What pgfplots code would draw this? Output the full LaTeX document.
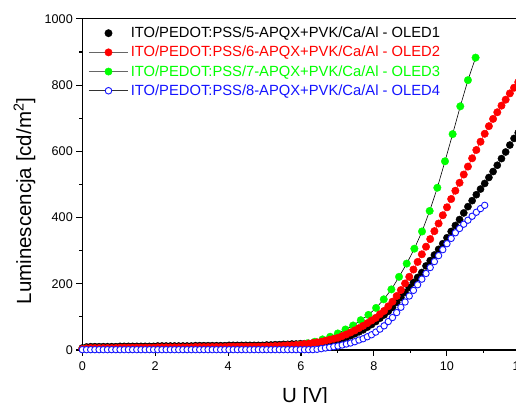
\documentclass[border=0pt]{standalone}
\usepackage{fontspec}
\setmainfont{Liberation Sans}
\usepackage{pgfplots}
\usepackage{pgfplotstable}
\pgfplotsset{compat=1.18}
\usetikzlibrary{calc}
\definecolor{lgreen}{RGB}{0,255,0}
\definecolor{lred}{RGB}{255,0,0}
\definecolor{lblue}{RGB}{20,20,255}

\pgfplotstableread{
x K R B
0 6 3 1
0.115 9 5 1
0.23 10 6 1
0.345 10 6 1
0.46 10 6 1
0.575 10 6 1
0.69 10 6 1
0.805 10 6 1
0.92 10 6 1
1.035 11 7 1
1.15 11 7 1
1.265 11 7 1
1.38 11 7 1
1.495 11 7 1
1.61 11 7 1
1.725 11 7 1
1.84 11 7 1
1.955 11 7 1
2.07 12 8 1
2.185 12 8 1
2.3 12 8 1
2.415 12 8 1
2.53 12 8 1
2.645 12 8 1
2.76 12 8 1
2.875 12 8 1
2.99 12 8 1
3.105 13 9 1
3.22 13 9 1
3.335 13 9 1
3.45 13 9 1
3.565 13 9 1
3.68 13 9 1
3.795 13 9 1
3.91 13 9 1
4.025 14 10 1
4.14 14 10 1
4.255 14 10 1
4.37 14 10 1
4.485 14 10 1
4.6 14 10 1
4.715 14 10 1
4.83 14 10 1
4.945 14 10 1
5.06 15 11 1
5.175 15 11 1
5.29 16 12 1
5.405 16 12 1
5.52 17 13 1
5.635 17 14 1
5.75 18 14 1
5.865 18 15 1
5.98 19 16 1
6.095 19 18 1
6.21 20 19 1
6.325 21 21 1
6.44 22 23 2
6.555 23 25 4
6.67 25 28 6
6.785 27 31 8
6.9 28 34 10
7.015 30 37 12
7.13 34 42 15
7.245 38 47 18
7.36 43 53 21
7.475 49 59 25
7.59 55 66 30
7.705 61 73 34
7.82 69 81 40
7.935 77 89 46
8.05 86 97 54
8.165 96 108 63
8.28 106 118 73
8.395 117 132 86
8.51 129 146 98
8.625 144 163 113
8.74 159 181 129
8.855 174 201 145
8.97 189 221 163
9.085 204 243 180
9.2 219 266 197
9.315 234 289 214
9.43 254 312 231
9.545 270 335 249
9.66 287 359 267
9.775 304 382 285
9.89 321 407 303
10.005 339 431 321
10.12 358 456 337
10.235 376 481 354
10.35 394 505 367
10.465 414 530 380
10.58 433 554 392
10.695 451 579 404
10.81 469 604 416
10.925 486 629 427
11.04 503 653 437
11.155 521 676 nan
11.27 539 698 nan
11.385 558 718 nan
11.5 578 738 nan
11.615 598 756 nan
11.73 619 775 nan
11.845 639 792 nan
11.96 656 809 nan
}\dataA

\pgfplotstableread{
x G
0.08 4
0.29 4
0.50 4
0.71 4
0.92 4
1.13 4
1.34 4
1.55 4
1.76 4
1.97 4
2.18 4
2.39 4
2.60 4
2.81 4
3.02 4
3.23 4
3.44 4
3.65 4
3.86 4
4.07 4
4.28 5
4.49 5
4.70 6
4.91 7
5.12 8
5.33 9
5.54 11
5.75 13
5.96 16
6.17 20
6.38 25
6.59 32
6.80 40
7.01 50
7.22 62
7.43 74
7.64 90
7.85 106
8.06 127
8.27 153
8.48 183
8.69 221
8.90 261
9.11 306
9.32 358
9.53 420
9.74 490
9.95 570
10.16 652
10.37 736
10.58 815
10.79 883
}\dataG

\begin{document}
\begin{tikzpicture}
\begin{axis}[
  scale only axis, width=437.4pt, height=331.1pt,
  xmin=0, xmax=12, ymin=0, ymax=1000,
  xtick={0,2,4,6,8,10,12}, ytick={0,200,400,600,800,1000},
  minor x tick num=1, minor y tick num=1,
  tick align=outside, major tick length=6pt, minor tick length=3pt,
  xtick pos=left, ytick pos=left,
  axis line style={line width=1.2pt},
  every tick/.style={black, line width=1.1pt},
  scaled ticks=false,
  /pgf/number format/assume math mode=true,
  /pgf/number format/1000 sep={},
  ticklabel style={font=\fontsize{12.6}{15}\selectfont},
  xticklabel style={yshift=-2pt},
  clip=false,
  xlabel={U [V]},
  ylabel={Luminescencja [cd/m\textsuperscript{2}]},
  label style={font=\fontsize{20.5}{24}\selectfont},
  xlabel style={at={(axis description cs:0.509,-0.1592)}, anchor=base},
  ylabel style={at={(axis description cs:-0.1321,0.450)}, anchor=center},
  legend style={at={(axis description cs:0,1)}, anchor=north west,
    xshift=5.7pt, yshift=-7pt, draw=none, fill=none,
    font=\fontsize{14.75}{17}\selectfont, row sep=5pt, inner sep=0pt,
    nodes={inner xsep=2pt, inner ysep=1pt}},
  legend cell align=left,
  legend image code/.code={\draw[mark repeat=2,mark phase=2,#1] plot coordinates {(0pt,0pt) (19.5pt,0pt) (39pt,0pt)};},
]
\coordinate (BL) at (rel axis cs:0,0);
\addlegendimage{only marks, mark=*, mark size=3.7pt, black}
\addlegendentry{ITO/PEDOT:PSS/5-APQX+PVK/Ca/Al - OLED1}
\addlegendimage{black!60, line width=1.6pt, mark=*, mark size=3.7pt, mark options={draw=lred, fill=lred, line width=0.4pt}}
\addlegendentry{\textcolor{lred}{ITO/PEDOT:PSS/6-APQX+PVK/Ca/Al - OLED2}}
\addlegendimage{black!60, line width=1.6pt, mark=*, mark size=3.7pt, mark options={draw=lgreen, fill=lgreen, line width=0.4pt}}
\addlegendentry{\textcolor{lgreen}{ITO/PEDOT:PSS/7-APQX+PVK/Ca/Al - OLED3}}
\addlegendimage{black!80, line width=0.7pt, mark=*, mark size=3.3pt, mark options={draw=lblue, fill=white, line width=0.9pt}}
\addlegendentry{\textcolor{lblue}{ITO/PEDOT:PSS/8-APQX+PVK/Ca/Al - OLED4}}

\addplot[only marks, mark=*, mark size=3.6pt, black, forget plot] table[x=x, y=K]{\dataA};
\addplot[black, line width=0.6pt, mark=*, mark size=3.8pt, mark options={draw=lgreen, fill=lgreen, line width=0.3pt}, forget plot] table[x=x, y=G]{\dataG};
\addplot[lred, line width=0.5pt, mark=*, mark size=3.7pt, mark options={draw=lred, fill=lred}, forget plot] table[x=x, y=R]{\dataA};
\addplot[black!80, line width=0.5pt, mark=*, mark size=3.2pt, mark options={draw=lblue, fill=white, line width=0.9pt}, forget plot] table[x=x, y=B]{\dataA};
\end{axis}
\pgfresetboundingbox
\path[use as bounding box] ($(BL)+(-82.3pt,-53pt)$) rectangle ($(BL)+(433.7pt,350pt)$);
\end{tikzpicture}
\end{document}
